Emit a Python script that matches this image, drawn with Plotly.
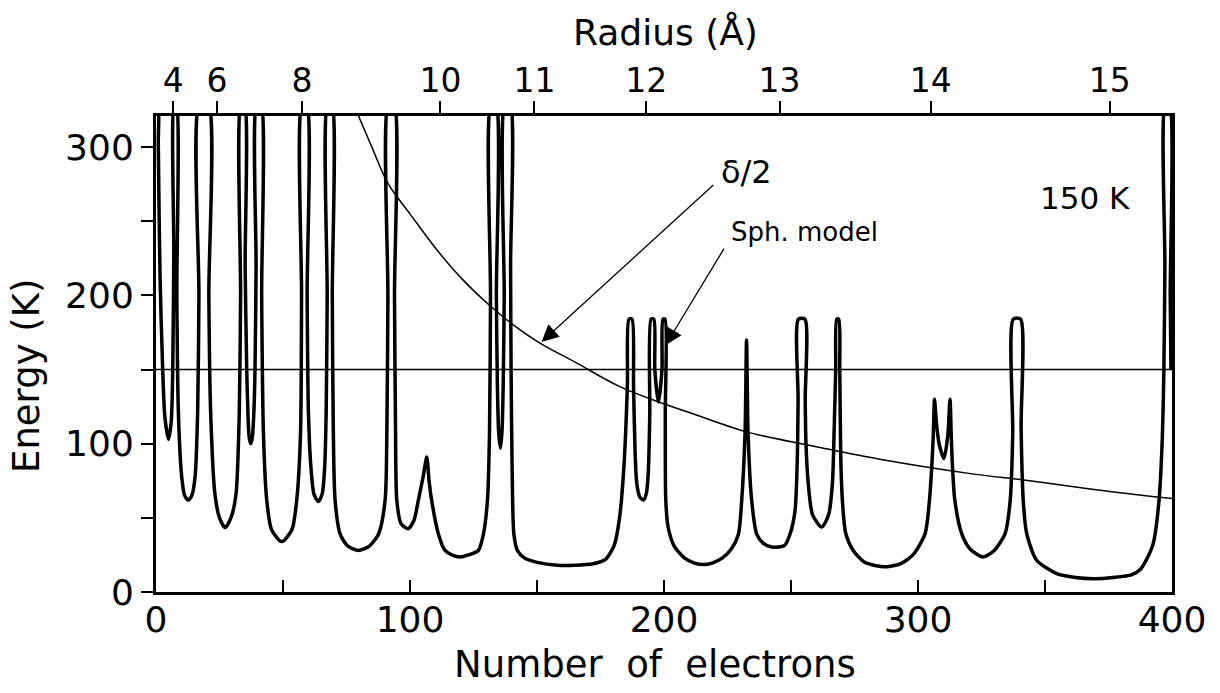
import plotly.graph_objects as go

# ---- data ----
# main curve: number of electrons vs energy (K); values above ~321 are clipped by the frame
curve_n = [0, 0.8, 0.9, 1.6, 2.6, 3.5, 4.9, 6.0, 6.6, 7.0, 7.2,
           8.0, 8.2, 8.8, 10.1, 11.3, 12.7, 14.1, 15.4, 16.4, 16.9, 17.1,
           20.6, 20.8, 21.5, 23.2, 25.0, 27.2, 29.5, 31.5, 32.8, 33.3, 33.5,
           34.8, 35.1, 35.7, 36.2, 36.7, 37.3, 37.9, 38.5, 39.0, 39.4, 39.7,
           41.3, 41.6, 42.3, 43.6, 45.5, 49.5, 53.5, 55.4, 56.9, 57.3, 57.5,
           59.3, 59.5, 60.0, 61.0, 62.2, 63.9, 65.4, 66.4, 67.0, 67.4, 67.6,
           69.2, 69.4, 69.8, 70.5, 72.5, 75.5, 79.7, 84.0, 87.6, 90.2, 90.9, 91.3, 91.5,
           93.7, 93.9, 94.3, 94.8, 96.5, 99.3, 101.5, 103.3, 105.2, 106.6, 107.5, 108.5,
           111.2, 113.8, 116.5, 119.7, 123.0, 126.9, 128.9, 130.5, 131.3, 131.7, 131.9,
           133.8, 134.0, 134.4, 134.9, 135.6, 136.2, 136.7, 137.1, 137.4,
           139.4, 139.6, 139.8, 140.2, 140.9, 142.3, 145.0, 150.0, 158.0, 165.0, 172.0,
           177.0, 180.5, 182.5, 184.2, 185.6,
           186.2, 187.4,
           188.0, 188.6, 189.3, 190.5, 191.9, 193.0, 193.8, 194.4, 194.9,
           196.0, 196.4, 197.8, 199.2, 199.6,
           200.4, 200.5, 200.7, 201.6, 204.0, 208.0, 212.0, 215.5, 219.0, 223.0,
           226.5, 229.3, 230.6,
           231.9, 232.5, 233.1, 234.5, 236.5, 239.0, 242.4, 247.5, 249.8, 251.6, 252.4,
           252.8, 252.9,
           255.5, 255.6, 255.9, 256.8, 258.5, 262.1, 264.8, 266.3, 267.0, 267.6,
           268.0, 268.8,
           269.2, 269.6, 270.3, 271.5, 274.5, 279.0, 286.3, 293.0, 298.0, 302.8, 304.5,
           305.4, 306.0, 306.5, 307.2, 308.3, 310.2, 311.7, 312.6, 313.1, 313.6, 314.5,
           317.2, 320.5, 325.7, 330.0, 334.3, 336.3, 337.3, 337.5,
           340.4, 340.6, 341.5, 342.8, 346.7, 354.6, 362.0, 369.0, 377.0, 384.0, 387.4,
           390.0, 392.6, 394.8, 396.1, 396.8, 397.2, 397.4,
           399.0, 399.3, 399.6]
curve_e = [330, 330, 302, 212, 152, 118, 103, 115, 150, 230, 330,
           330, 200, 122, 78, 65, 62, 65, 78, 122, 200, 330,
           330, 200, 122, 66, 50, 43.5, 50, 66, 122, 200, 330,
           330, 220, 152, 120, 104, 100, 104, 120, 152, 220, 330,
           330, 200, 107, 62, 42, 34, 42, 62, 107, 200, 330,
           330, 200, 122, 84, 66, 61, 66, 84, 122, 200, 330,
           330, 200, 110, 62, 39, 31, 28, 31, 39, 62, 110, 200, 330,
           330, 200, 110, 62, 46, 42.7, 48, 62, 78, 91, 75, 62,
           39, 28, 25, 23.6, 25, 28, 39, 62, 107, 200, 330,
           330, 200, 140, 108, 97, 108, 140, 200, 330,
           330, 220, 150, 84, 39, 28, 23, 20, 18, 18, 19,
           22, 32, 50, 84, 140,
           184, 184,
           140, 95, 73, 64, 62, 66, 80, 120, 184,
           184, 150, 128, 150, 184,
           184, 120, 62, 44, 31, 23, 19.5, 18.5, 19.5, 23,
           29, 39, 62,
           107, 170, 107, 62, 39, 33, 30.3, 31.5, 40, 55, 85,
           130, 184,
           184, 130, 100, 73, 52, 43.8, 52, 73, 110, 150,
           184, 184,
           150, 90, 60, 40, 28, 20, 17, 19, 25, 39.4, 61.8,
           84, 105, 130, 115, 100, 90, 105, 130, 105, 84, 61.8,
           39.4, 29, 23.6, 28, 39.4, 61.8, 107, 184,
           184, 110, 60, 39.4, 21.4, 12.4, 9.8, 9, 9.8, 11.5, 15,
           22, 32.6, 60, 100, 150, 220, 330,
           330, 200, 150]

# delta/2 curve
delta_n = [79.5, 85, 91.5, 100, 110, 120, 131.5, 140, 151, 165, 182, 195,
           210, 232.5, 260, 285, 320, 344, 370, 400]
delta_e = [322, 300, 275, 255, 232, 212, 193, 181, 168, 155, 139, 130,
           121, 108, 98, 89.5, 80, 75, 69, 63]

# 150 K reference line
level_n = [0, 400]
level_e = [150, 150]

# bottom axis ticks
x_ticks = [0, 50, 100, 150, 200, 250, 300, 350, 400]
x_ticktext = ["0", "", "100", "", "200", "", "300", "", "400"]
# left axis ticks
y_ticks = [0, 50, 100, 150, 200, 250, 300]
y_ticktext = ["0", "", "100", "", "200", "", "300"]
# top axis: radius ticks (positions in number of electrons)
radius_tick_n = [6.8, 24, 57.5, 112, 149, 193, 245.5, 305, 375.5]
radius_ticktext = ["4", "6", "8", "10", "11", "12", "13", "14", "15"]

FONT = "DejaVu Sans, Verdana, sans-serif"
W, H = 1220, 693
L, R, T, B = 156, 48, 116, 101

fig = go.Figure()
fig.add_trace(go.Scatter(x=curve_n, y=curve_e, mode="lines",
                         line=dict(color="black", width=3.5,
                                   shape="spline", smoothing=0.7),
                         hoverinfo="skip", showlegend=False))
fig.add_trace(go.Scatter(x=delta_n, y=delta_e, mode="lines",
                         line=dict(color="black", width=1.5, shape="spline"),
                         hoverinfo="skip", showlegend=False))
fig.add_trace(go.Scatter(x=level_n, y=level_e, mode="lines", xaxis="x2",
                         line=dict(color="black", width=1.4),
                         hoverinfo="skip", showlegend=False))

axis_common = dict(showgrid=False, zeroline=False, showline=True,
                   linecolor="black", linewidth=3, tickcolor="black",
                   tickwidth=2, ticklen=12)

fig.update_layout(
    width=W, height=H,
    margin=dict(l=L, r=R, t=T, b=B, pad=0),
    paper_bgcolor="white", plot_bgcolor="white",
    xaxis=dict(range=[0, 400], tickmode="array", tickvals=x_ticks,
               ticktext=x_ticktext, ticks="inside", ticklabelstandoff=-6,
               tickfont=dict(family=FONT, size=36, color="black"),
               **axis_common),
    xaxis2=dict(range=[0, 400], overlaying="x", side="top", anchor="y",
                tickmode="array", tickvals=radius_tick_n,
                ticktext=radius_ticktext, ticks="outside",
                ticklabelstandoff=-4,
                tickfont=dict(family=FONT, size=33, color="black"),
                **axis_common),
    yaxis=dict(range=[0, 321], tickmode="array", tickvals=y_ticks,
               ticktext=y_ticktext, ticks="outside", mirror=True,
               tickfont=dict(family=FONT, size=36, color="black"),
               **axis_common),
)

pw = W - L - R
ph = H - T - B


def px_to_paper(px, py):
    return (px - L) / pw, (H - B - py) / ph


annots = []
# axis titles
for text, (px, py), size, angle in [
        ("Radius (Å)", (665, 32), 36, 0),
        ("Number\u00a0 of\u00a0 electrons", (655, 664), 37, 0),
        ("Energy (K)", (26, 376), 37, -90)]:
    ax_, ay_ = px_to_paper(px, py)
    annots.append(dict(text=text, x=ax_, y=ay_, xref="paper", yref="paper",
                       showarrow=False, textangle=angle,
                       xanchor="center", yanchor="middle",
                       font=dict(family=FONT, size=size, color="black")))

# in-plot labels
annots += [
    dict(text="δ/2", x=232.3, y=283, xref="x", yref="y", showarrow=False,
         font=dict(family=FONT, size=32, color="black")),
    dict(text="Sph. model", x=255.5, y=242.5, xref="x", yref="y",
         showarrow=False, font=dict(family=FONT, size=26, color="black")),
    dict(text="150 K", x=365.7, y=266, xref="x", yref="y", showarrow=False,
         font=dict(family=FONT, size=31, color="black")),
    # arrows
    dict(text="", x=151.8, y=168.6, ax=220, ay=275.4, xref="x", yref="y",
         axref="x", ayref="y", showarrow=True, arrowhead=2, arrowsize=2.6,
         arrowwidth=1.3, arrowcolor="black", standoff=0),
    dict(text="", x=200.6, y=166.4, ax=224, ay=232.6, xref="x", yref="y",
         axref="x", ayref="y", showarrow=True, arrowhead=2, arrowsize=2.6,
         arrowwidth=1.3, arrowcolor="black", standoff=0),
]
fig.update_layout(annotations=annots)

fig.write_html("out.html")
